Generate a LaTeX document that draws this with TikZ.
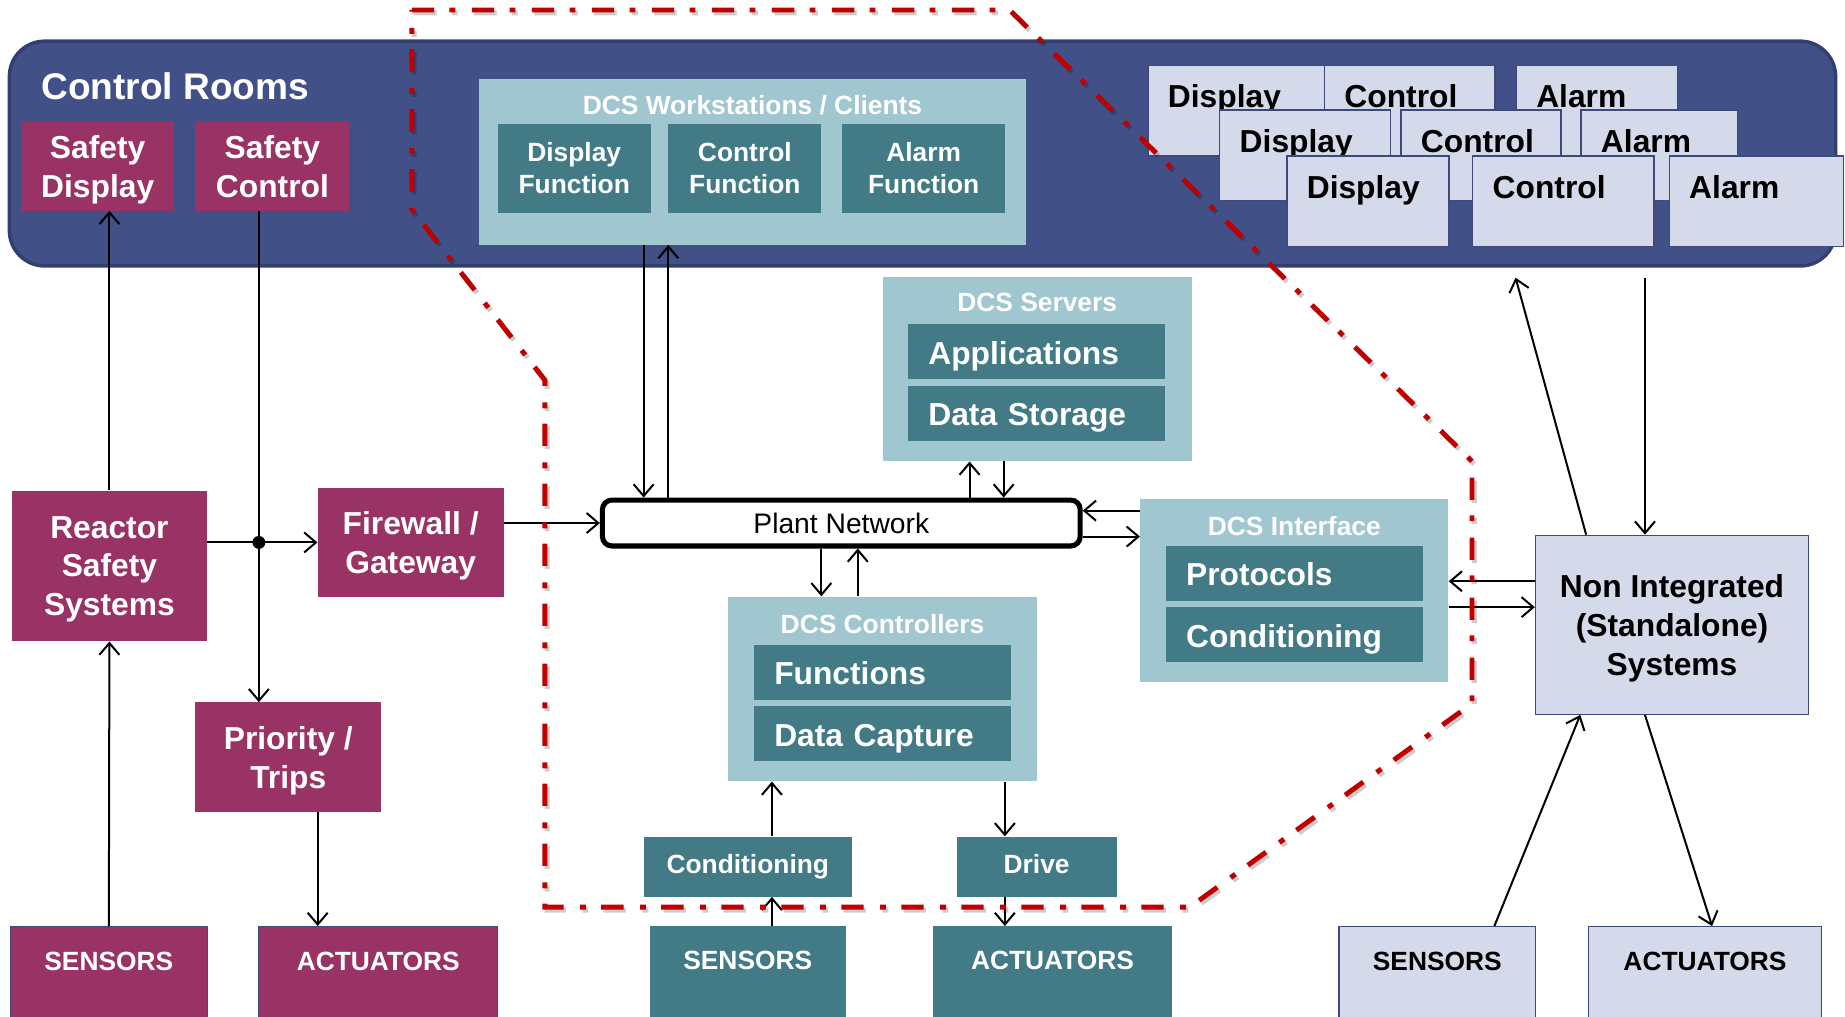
\documentclass[tikz,border=0pt]{standalone}
\usepackage{fontspec}
\setmainfont{Liberation Sans}
\usetikzlibrary{arrows.meta}

\definecolor{roomblue}{HTML}{415188}
\definecolor{roomedge}{HTML}{323F6E}
\definecolor{safered}{HTML}{993366}
\definecolor{dcslight}{HTML}{A0C6D0}
\definecolor{dcsteal}{HTML}{427A86}
\definecolor{lavfill}{HTML}{D5DAEA}
\definecolor{lavedge}{HTML}{3E4A7C}
\definecolor{zonered}{HTML}{C00000}

\begin{document}
\begin{tikzpicture}[x=1pt,y=-1pt,
    room/.style={fill=roomblue,draw=roomedge,line width=3pt,rounded corners=30pt,inner sep=0pt},
    safety/.style={fill=safered,text=white,font=\bfseries\txtL,align=center,inner sep=0pt,text depth=-4.5pt},
    dcs/.style={fill=dcslight,inner sep=0pt},
    dcstitle/.style={text=white,font=\bfseries\txtM,inner sep=0pt},
    func/.style={fill=dcsteal,text=white,font=\bfseries\txtM,align=center,inner sep=0pt},
    cell/.style={fill=dcsteal,text=white,font=\bfseries\txtL,align=left,text width=184pt,inner xsep=17pt,inner ysep=0pt,
      text height=21pt,text depth=0pt,minimum height=47pt},
    lav/.style={fill=lavfill,draw=lavedge,line width=1.2pt,font=\bfseries\txtL,align=center,inner sep=0pt,text depth=-4pt},
    screen/.style={fill=lavfill,draw=lavedge,line width=1.2pt,font=\bfseries\txtL,align=left,inner xsep=17pt,inner ysep=0pt,text height=36pt,text depth=41pt,anchor=north west},
    field/.style={font=\bfseries\txtM,inner ysep=0pt,text height=37pt,text depth=46pt,anchor=north},
    link/.style={line width=1.7pt,-{Straight Barb[length=10pt,width=17pt]}},
    wire/.style={line width=1.7pt},
    zone/.style={draw=zonered,line width=4.2pt,dash pattern=on 19pt off 13pt on 5pt off 14pt}]

  \def\txtXL{\fontsize{31.5pt}{37pt}\selectfont}
  \def\txtL{\fontsize{27pt}{33pt}\selectfont}
  \def\txtM{\fontsize{22.4pt}{27pt}\selectfont}

  \path[use as bounding box,fill=white] (0,0) rectangle (1568,864);

  \node[room,minimum width=1552pt,minimum height=191pt] (rooms) at (784,130.5) {};
  \node[text=white,font=\bfseries\txtXL,anchor=west,inner sep=0pt] (roomsname) at (35,73) {Control Rooms};
  \node[safety,minimum width=130pt,minimum height=75pt] (sdisp) at (83,141.5) {Safety\\Display};
  \node[safety,minimum width=131pt,minimum height=75pt] (sctrl) at (231.5,141.5) {Safety\\Control};

  \node[dcs,minimum width=465pt,minimum height=141pt] (ws) at (639.5,137.5) {};
  \node[dcstitle] (wstitle) at (639.5,89) {DCS Workstations / Clients};
  \node[func,minimum width=130pt,minimum height=76pt] (wsdisp) at (488,143) {Display\\Function};
  \node[func,minimum width=130pt,minimum height=76pt] (wsctrl) at (633,143) {Control\\Function};
  \node[func,minimum width=138pt,minimum height=76pt] (wsalarm) at (785,143) {Alarm\\Function};

  \foreach \xx/\yy/\ww/\lbl [count=\k] in {975/55/150/Display,1125/55/145/Control,1288/55/137/Alarm,
      1036/93/145/Display,1190/93/136/Control,1343/93/133/Alarm,
      1093/132/138/Display,1251/132/154/Control,1418/132/148/Alarm} {
    \pgfmathsetmacro{\tw}{\ww-34}
    \node[screen,text width=\tw pt] (scr\k) at (\xx,\yy) {\lbl};
  }

  \node[safety,minimum width=166pt,minimum height=128pt] (rss) at (93,481) {Reactor\\Safety\\Systems};
  \node[safety,minimum width=158pt,minimum height=92pt] (fw) at (349,461) {Firewall /\\Gateway};
  \node[safety,minimum width=158pt,minimum height=93pt] (prio) at (245,643.5) {Priority /\\Trips};
  \node[safety,field,draw=lavedge,line width=1pt,minimum width=167pt] (sens1) at (92.5,787) {SENSORS};
  \node[safety,field,draw=lavedge,line width=1pt,minimum width=203pt] (act1) at (321.5,787) {ACTUATORS};

  \node[draw,line width=4.3pt,rounded corners=8pt,fill=white,minimum width=406pt,minimum height=39pt,
    font=\fontsize{24pt}{28pt}\selectfont,inner sep=0pt] (net) at (715,444.5) {Plant Network};

  \node[dcs,minimum width=263pt,minimum height=157pt] (srv) at (881.5,313.5) {};
  \node[dcstitle] (srvtitle) at (881.5,257) {DCS Servers};
  \node[cell] (apps) at (881,299) {Applications};
  \node[cell] (store) at (881,351.5) {Data Storage};

  \node[dcs,minimum width=262pt,minimum height=156pt] (itf) at (1100,502) {};
  \node[dcstitle] (itftitle) at (1100,447) {DCS Interface};
  \node[cell] (proto) at (1100,487.5) {Protocols};
  \node[cell] (itfcond) at (1100,539.5) {Conditioning};

  \node[dcs,minimum width=262pt,minimum height=157pt] (ctl) at (750,585.5) {};
  \node[dcstitle] (ctltitle) at (750,530) {DCS Controllers};
  \node[cell] (funcs) at (750,571.5) {Functions};
  \node[cell] (capture) at (750,623.5) {Data Capture};

  \node[func,minimum width=177pt,minimum height=51pt,text depth=4.7pt] (cond) at (635.5,736.5) {Conditioning};
  \node[func,minimum width=136pt,minimum height=51pt,text depth=4.7pt] (drive) at (881,736.5) {Drive};
  \node[func,field,minimum width=167pt] (sens2) at (635.5,787) {SENSORS};
  \node[func,field,minimum width=203pt] (act2) at (894.5,787) {ACTUATORS};

  \node[lav,minimum width=232pt,minimum height=152pt] (nis) at (1421,531) {Non Integrated\\(Standalone)\\Systems};
  \node[lav,field,minimum width=167pt] (sens3) at (1221.5,787) {SENSORS};
  \node[lav,field,minimum width=198pt] (act3) at (1449,787) {ACTUATORS};

  \coordinate (tap) at (220,0 |- fw.west);
  \coordinate (toroom) at (1288,236);
  \coordinate (fromroom) at (1398,236);

  \draw[link] (sens1.north) -- (rss.south);
  \draw[link] (rss.north) -- (rss.north |- sdisp.south);
  \draw[wire] (tap |- sctrl.south) -- (tap);
  \draw[link] (tap) -- (tap |- prio.north);
  \draw[link] (rss.east |- tap) -- (fw.west);
  \fill (tap) circle[radius=5.5pt];
  \draw[link] (270,0 |- prio.south) -- (270,0 |- act1.north);
  \draw[link] (fw.east |- net.west) -- (net.west);

  \draw[link] (547,0 |- ws.south) -- (547,0 |- net.north);
  \draw[link] (568,0 |- net.north) -- (568,0 |- ws.south);
  \draw[link] (824,0 |- net.north) -- (824,0 |- srv.south);
  \draw[link] (853,0 |- srv.south) -- (853,0 |- net.north);
  \draw[link] (698,0 |- net.south) -- (698,0 |- ctl.north);
  \draw[link] (729,0 |- ctl.north) -- (729,0 |- net.south);
  \draw[link] (itf.west |- 0,434) -- (net.east |- 0,434);
  \draw[link] (net.east |- 0,456) -- (itf.west |- 0,456);
  \draw[link] (nis.west |- 0,494) -- (itf.east |- 0,494);
  \draw[link] (itf.east |- 0,516) -- (nis.west |- 0,516);

  \draw[link] (656,0 |- cond.north) -- (656,0 |- ctl.south);
  \draw[link] (854,0 |- ctl.south) -- (854,0 |- drive.north);
  \draw[link] (656,0 |- sens2.north) -- (656,0 |- cond.south);
  \draw[link] (854,0 |- drive.south) -- (854,0 |- act2.north);

  \draw[link] (1348,0 |- nis.north) -- (toroom);
  \draw[link] (fromroom) -- (fromroom |- nis.north);
  \draw[link] (1270,0 |- sens3.north) -- (1343,0 |- nis.south);
  \draw[link] (1398,0 |- nis.south) -- (1455,0 |- act3.north);

  \draw[zone,draw=black,opacity=.2,shift={(2,2.5)}] (350,8.5) -- (858,8.5) -- (1251,392) -- (1251,598)
    -- (1011,771) -- (463,771) -- (463,323) -- (350,178) -- cycle;
  \draw[zone] (350,8.5) -- (858,8.5) -- (1251,392) -- (1251,598)
    -- (1011,771) -- (463,771) -- (463,323) -- (350,178) -- cycle;

\end{tikzpicture}
\end{document}
